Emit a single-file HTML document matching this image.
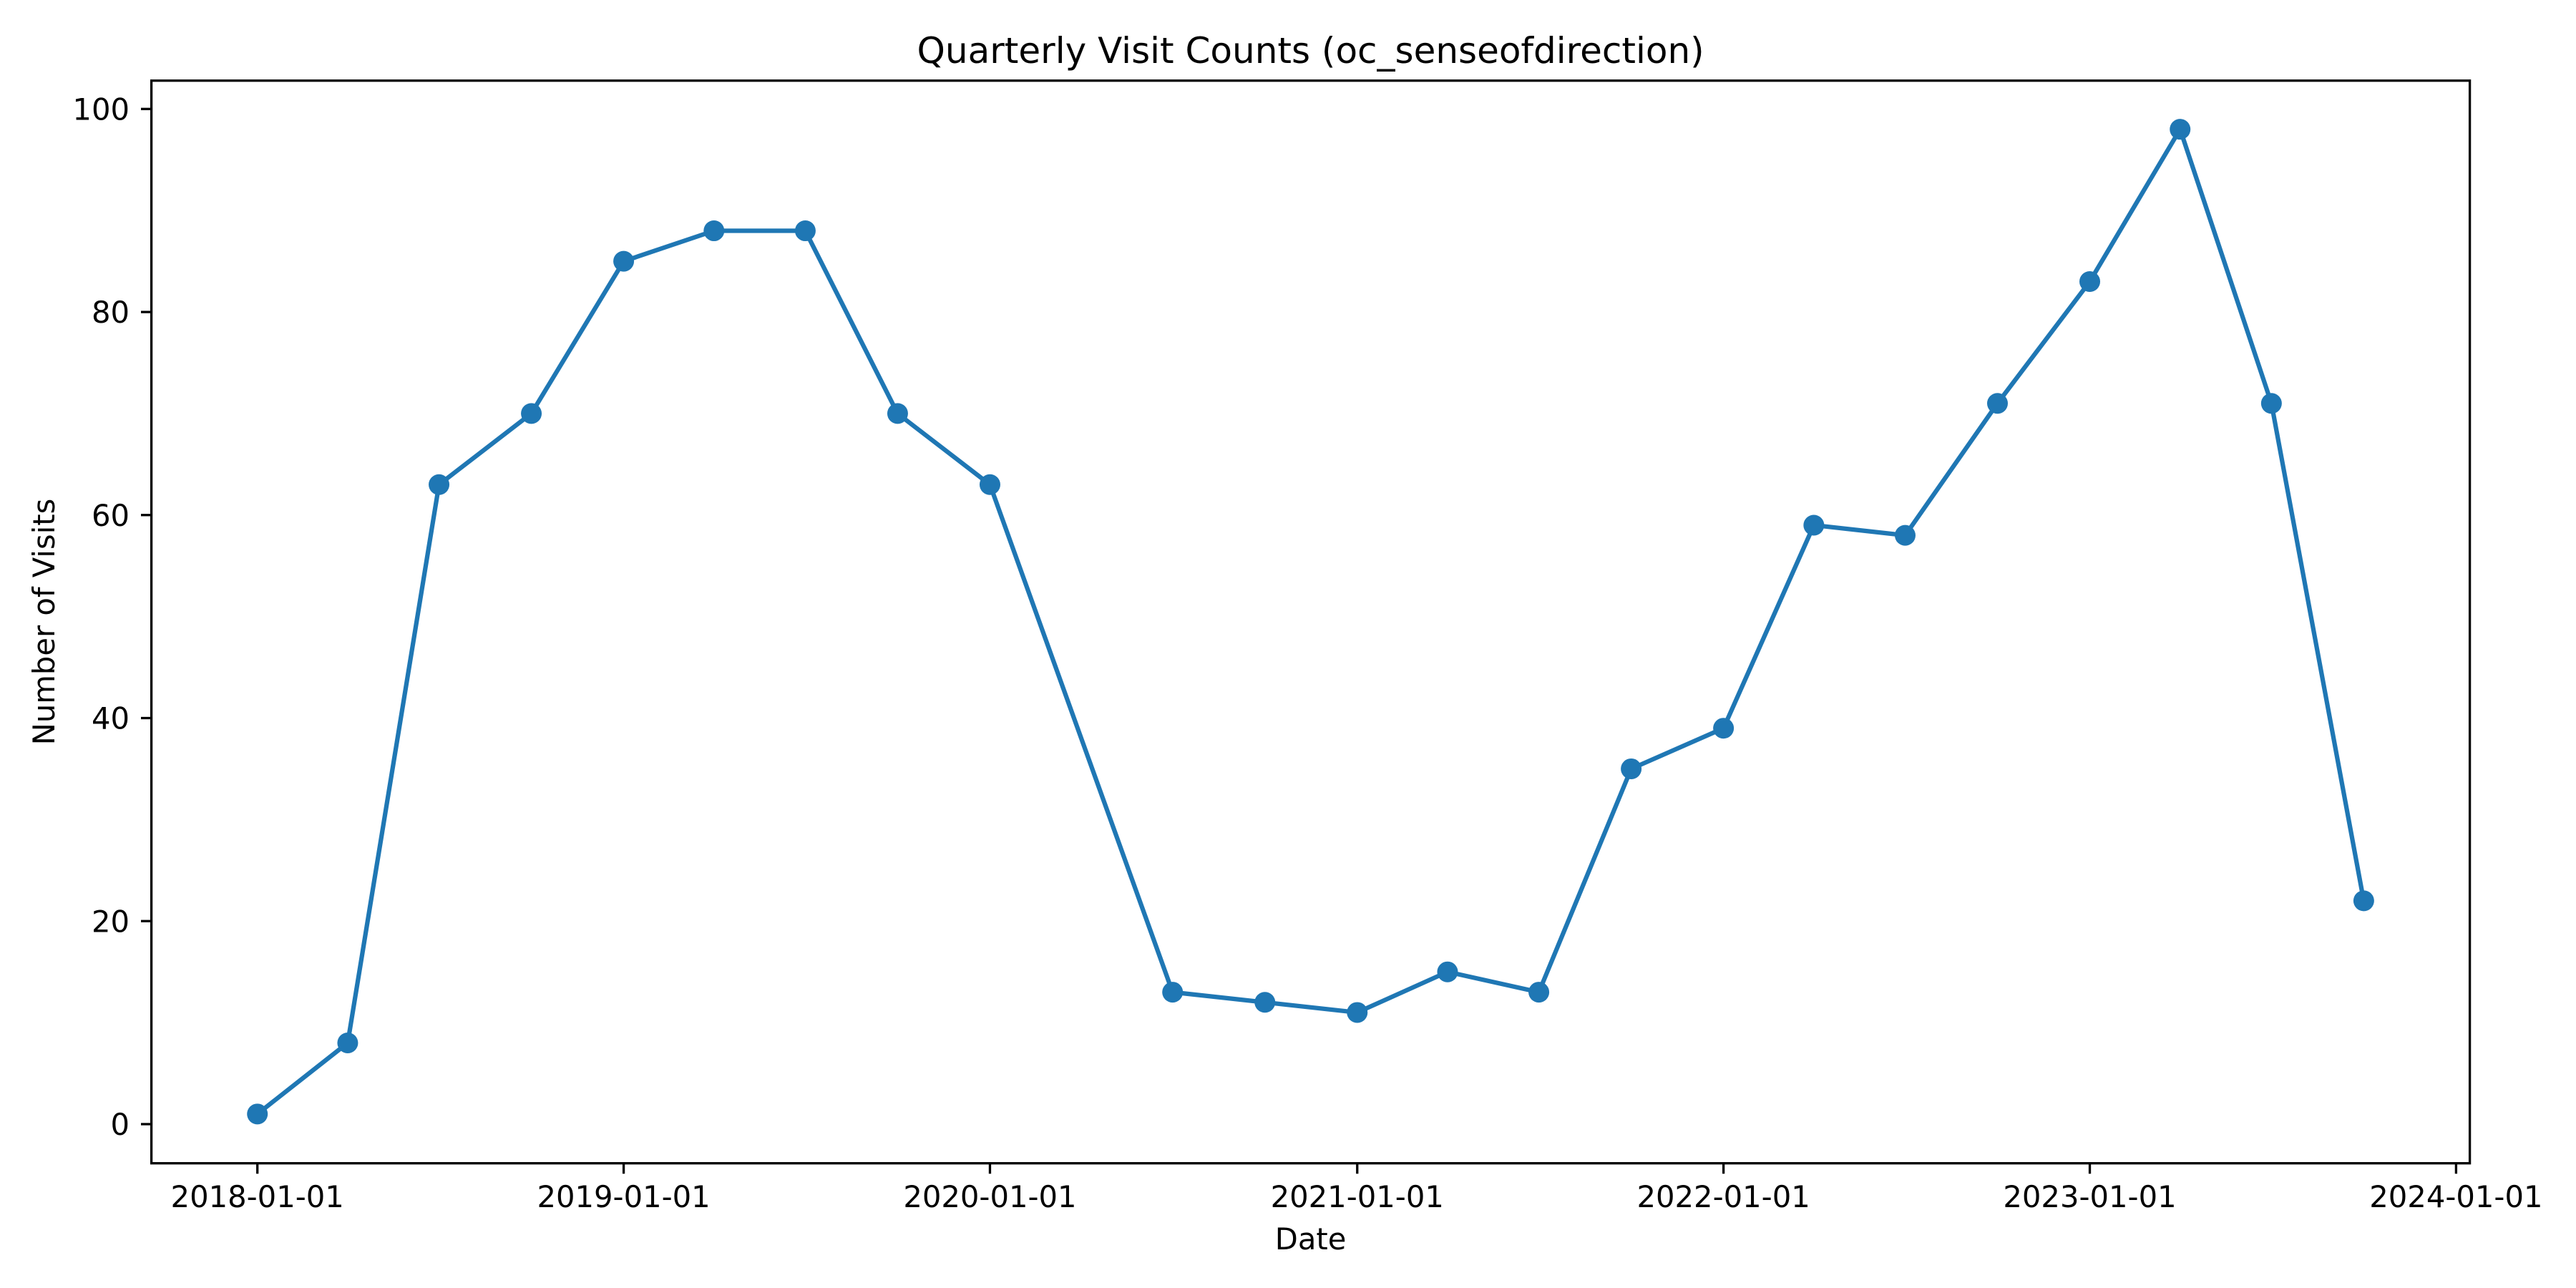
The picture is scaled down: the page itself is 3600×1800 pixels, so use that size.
<!DOCTYPE html>
<html><head><meta charset="utf-8"><style>
html,body{margin:0;padding:0;background:#fff;}
svg{display:block;font-family:"DejaVu Sans","Liberation Sans",sans-serif;}
</style></head><body>
<svg id="chart" width="3600" height="1800" viewBox="0 0 3600 1800">
<rect width="3600" height="1800" fill="#fff"/>
<text x="1831.6" y="88" font-size="50" text-anchor="middle">Quarterly Visit Counts (oc_senseofdirection)</text>
<text x="1831.6" y="1746" font-size="41.7" text-anchor="middle">Date</text>
<text transform="translate(76,869) rotate(-90)" font-size="41.7" text-anchor="middle">Number of Visits</text>
<g id="grid"></g>
<g id="series"></g>
<rect x="211.6" y="112.7" width="3240" height="1513" fill="none" stroke="#000" stroke-width="3.3"/>
</svg>
<script>
const dates = ["2018-01-01","2018-04-01","2018-07-01","2018-10-01","2019-01-01","2019-04-01","2019-07-01","2019-10-01","2020-01-01","2020-07-01","2020-10-01","2021-01-01","2021-04-01","2021-07-01","2021-10-01","2022-01-01","2022-04-01","2022-07-01","2022-10-01","2023-01-01","2023-04-01","2023-07-01","2023-10-01"];
const visits = [1,8,63,70,85,88,88,70,63,13,12,11,15,13,35,39,59,58,71,83,98,71,22];
const xTickLabels = ["2018-01-01","2019-01-01","2020-01-01","2021-01-01","2022-01-01","2023-01-01","2024-01-01"];
const yTickValues = [0,20,40,60,80,100];

const NS = "http://www.w3.org/2000/svg";
const t0 = Date.UTC(2018,0,1), t1 = Date.UTC(2024,0,1);
function xs(d){ const t = Date.parse(d+"T00:00:00Z"); return 359.7 + (t - t0)/(t1 - t0)*(3432.4-359.7); }
function ys(v){ return 1571 - v*(1571-152.3)/100; }
const ticks = document.getElementById("grid");
for (const lab of xTickLabels) {
  const x = xs(lab);
  const l = document.createElementNS(NS,"line");
  l.setAttribute("x1",x); l.setAttribute("x2",x); l.setAttribute("y1",1625.7); l.setAttribute("y2",1640.3);
  l.setAttribute("stroke","#000"); l.setAttribute("stroke-width","3.3");
  
  
  ticks.appendChild(l);
  const t = document.createElementNS(NS,"text");
  t.setAttribute("x",x); t.setAttribute("y",1687); t.setAttribute("font-size","41.7"); t.setAttribute("text-anchor","middle");
  t.textContent = lab;
  
  
  ticks.appendChild(t);
}
for (const v of yTickValues) {
  const y = ys(v);
  const l = document.createElementNS(NS,"line");
  l.setAttribute("x1",197); l.setAttribute("x2",211.6); l.setAttribute("y1",y); l.setAttribute("y2",y);
  l.setAttribute("stroke","#000"); l.setAttribute("stroke-width","3.3");
  
  
  ticks.appendChild(l);
  const t = document.createElementNS(NS,"text");
  t.setAttribute("x",181); t.setAttribute("y",y+15); t.setAttribute("font-size","41.7"); t.setAttribute("text-anchor","end");
  t.textContent = String(v);
  
  
  ticks.appendChild(t);
}
const series = document.getElementById("series");
const pl = document.createElementNS(NS,"polyline");
pl.setAttribute("points", dates.map((d,i)=>xs(d)+","+ys(visits[i])).join(" "));
pl.setAttribute("fill","none"); pl.setAttribute("stroke","#1f77b4"); pl.setAttribute("stroke-width","6.25");
pl.setAttribute("stroke-linejoin","round"); pl.setAttribute("stroke-linecap","square");


series.appendChild(pl);
dates.forEach((d,i)=>{
  const c = document.createElementNS(NS,"circle");
  c.setAttribute("cx",xs(d)); c.setAttribute("cy",ys(visits[i])); c.setAttribute("r","14.5"); c.setAttribute("fill","#1f77b4");
  
  
  series.appendChild(c);
});
</script>
</body></html>
